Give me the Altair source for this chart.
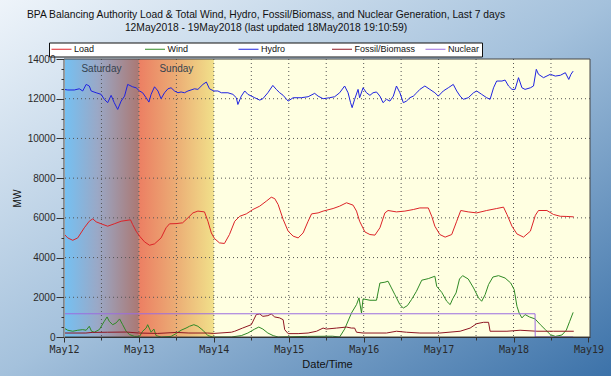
import altair as alt
import pandas as pd

BASE = pd.Timestamp("2018-05-12 00:00")
W, H = 526, 278

title_lines = [
    "BPA Balancing Authority Load & Total Wind, Hydro, Fossil/Biomass, and Nuclear Generation, Last 7 days",
    "12May2018 - 19May2018 (last updated 18May2018 19:10:59)",
]
series_names = ["Load", "Wind", "Hydro", "Fossil/Biomass", "Nuclear"]
series_colors = ["#dc2328", "#2f8a25", "#1f23e0", "#8e1622", "#9b6ce0"]

# hours after 12May2018 00:00, MW
hydro_h = [0, 1.2, 3.3, 4.9, 6.0, 7.1, 8.1, 8.7, 10.3, 11.9, 12.9, 14.0, 15.1, 16.1, 17.2, 18.3, 19.4, 20.4, 22.0, 23.1,
           24.2, 25.2, 26.3, 27.2, 27.9, 29.0, 30.1, 31.1, 32.2, 33.3, 34.3, 35.4, 36.5, 37.5, 38.6, 39.7, 40.7, 41.8, 42.9, 44.5,
           45.6, 46.6, 48.0, 49.3, 50.4, 52.5, 54.1, 55.2, 55.7, 56.8, 57.9, 58.9, 61.1, 62.7, 63.7, 65.3, 66.9, 68.0, 69.1, 70.2,
           71.8, 73.4, 76.0, 78.2, 80.3, 81.4, 83.0,
           85.1, 86.7, 88.3, 89.9, 91.0, 91.8, 92.3, 93.1, 94.2, 94.7, 95.8, 96.9, 98.0, 99.0, 100.1, 101.2, 102.2, 103.3, 104.4, 105.5,
           106.5, 107.6, 108.7, 109.7, 110.8, 111.9, 113.0, 114.0, 115.6, 117.2, 118.8, 119.9, 121.5, 123.1, 124.7, 125.8, 126.9, 127.9, 129.5, 131.2,
           132.2, 133.8, 135.4, 136.5, 137.6, 138.6, 140.3, 141.3, 142.4, 143.5, 144.5, 145.6, 146.7, 147.7, 149.4, 150.4, 151.3, 152.0, 153.6, 155.8,
           157.4, 159.0, 160.6, 161.7, 162.4, 163.1]
hydro_mw = [12470, 12440, 12440, 12500, 12390, 12720, 12640, 12390, 12300, 12220, 11970, 11800, 12170, 11800, 11460, 11880, 12130, 12720, 12600, 12550,
            12390, 12300, 12050, 11830, 12220, 12600, 12390, 12000, 12300, 12500, 12550, 12390, 12300, 12340, 12300, 12390, 12440, 12500, 12470, 12720,
            12840, 12500, 12390, 12390, 12300, 12300, 12220, 12050, 11710, 12130, 12390, 12220, 12050, 11930, 12000, 12300, 12670, 12470, 12300, 12170,
            11880, 12050, 12050, 12100, 12270, 12130, 12000,
            12050, 12100, 12300, 12640, 12300, 11800, 11550, 11970, 12470, 12050, 12550, 12300, 12170, 12300, 12340, 12130, 11800, 11970, 11880, 12130,
            12640, 12300, 11800, 11880, 12050, 12130, 12300, 12470, 12640, 12470, 12300, 12130, 12390, 12550, 12720, 12390, 12130, 11970, 12050, 12300,
            12390, 12220, 12050, 11970, 12550, 12890, 12890, 12940, 12640, 12470, 12470, 13060, 12550, 12470, 12550, 12640, 13480, 13230, 13060, 13230,
            13140, 13180, 13310, 12970, 13230, 13390]

load_h = [0, 1.2, 2.8, 4.4, 6.5, 8.1, 9.2, 10.3, 11.9, 14.0, 16.1, 18.3, 21.3, 22.0, 23.1, 24.2, 25.8, 27.4, 29.0, 31.1,
          32.7, 33.8, 35.9, 38.0, 39.7, 41.3, 42.9, 45.0, 46.1, 47.2, 48.2, 49.8, 51.4, 53.0, 54.7, 56.3, 58.4, 60.5, 62.7, 64.8,
          66.4, 67.5, 68.6, 70.2, 71.8, 73.4, 75.0, 76.6, 78.2, 79.3, 81.4, 83.0, 86.2, 88.3, 90.5, 92.6, 93.7, 94.7, 96.4, 98.0,
          99.6, 101.2, 102.8, 103.8, 106.5, 109.2, 111.9, 114.0, 116.7, 117.8, 118.8, 120.4, 122.1, 124.2, 125.8, 127.1, 129.5, 132.2, 135.4, 138.6,
          140.8, 141.9, 143.5, 145.1, 147.2, 149.4, 151.0, 152.0, 154.7, 156.8, 159.0, 161.1, 163.3]
load_mw = [5190, 4990, 4870, 4990, 5500, 5830, 5950, 5800, 5700, 5580, 5700, 5830, 5900, 5660, 5330, 5080, 4790, 4620, 4690, 4990,
           5500, 5700, 5710, 5750, 6000, 6250, 6340, 6300, 5830, 5240, 4960, 4740, 4710, 5160, 5830, 6080, 6200, 6420, 6590, 6840,
           7040, 6970, 6670, 5920, 5330, 5080, 4990, 5240, 5830, 6200, 6250, 6340, 6470, 6590, 6760, 6640, 6340, 5830, 5290, 5160,
           5130, 5500, 6250, 6370, 6300, 6340, 6420, 6500, 6500, 6080, 5580, 5160, 5030, 5160, 5830, 6370, 6300, 6250, 6370, 6470,
           6540, 6170, 5580, 5190, 5030, 5330, 6130, 6370, 6370, 6170, 6080, 6070, 6050]

wind_h = [0, 1.2, 2.8, 4.4, 6.0, 7.1, 8.1, 8.8, 9.7, 11.3, 12.9, 13.8, 14.5, 15.6, 16.7, 17.8, 18.8, 19.9, 21.0, 22.6,
          24.2, 25.2, 26.3, 26.8, 27.9, 28.8, 29.5, 31.1, 34.3, 35.9, 37.5, 39.1, 40.2, 41.6, 42.9, 44.5, 46.1, 47.7, 53.6, 56.8,
          58.9, 61.1, 62.4, 63.7, 65.3, 67.0, 68.6, 78.0, 86.0, 88.3, 89.9, 92.1, 93.7, 94.5, 95.3, 95.8, 98.0, 100.1, 101.2, 102.8,
          103.8, 104.9, 106.0, 107.6, 108.7, 110.0, 111.3, 112.9, 114.6, 116.7, 118.8, 119.4, 121.0, 122.6, 123.7, 124.5, 125.6, 126.7, 127.7, 129.5,
          131.2, 132.8, 133.8, 134.9, 136.0, 137.4, 139.2, 141.3, 143.1, 144.2, 145.1, 145.8, 146.7, 147.7, 149.1, 150.9, 152.6, 154.2, 155.8, 157.4,
          159.5, 160.9, 162.0, 163.1]
wind_mw = [450, 340, 290, 340, 370, 340, 540, 290, 240, 370, 790, 1010, 790, 620, 710, 910, 620, 290, 120, 30,
           30, 290, 450, 620, 240, 400, 70, 0, 30, 170, 340, 450, 540, 620, 540, 340, 70, 0, 0, 70,
           200, 400, 500, 400, 200, 70, 0, 30, 40, 0, 400, 1210, 1630, 1970, 1210, 1920, 1850, 1850, 2720, 2760,
           2810, 2470, 2130, 1630, 1460, 1580, 1880, 2300, 2860, 2940, 3060, 2550, 2250, 1800, 1630, 1920, 2220, 2920, 3090, 2920,
           2470, 1970, 1800, 2130, 2640, 3020, 3090, 2970, 2720, 2390, 1550, 1210, 960, 1130, 1010, 910, 620, 370, 120, 30,
           100, 340, 790, 1240]

fossil_h = [0, 7, 9, 14, 20, 24, 30, 36, 40, 46, 48, 53.6, 54.7, 57.2, 60, 61.6, 62.7, 63.7, 65.3, 66.4,
            67.5, 69.1, 70.2, 70.7, 71.8, 75, 78.2, 80.9, 83, 84, 87.3, 90.5, 92.1, 93.1, 93.7, 95.8, 103.3, 106.5, 109.7, 114,
            120.4, 126.9, 130.1, 132.2, 134.4, 136, 136.5, 141.9, 146.1, 151.5, 156.8, 163.3]
fossil_mw = [200, 200, 230, 240, 250, 200, 180, 230, 200, 200, 180, 240, 290, 450, 620, 1130, 1160, 1040, 1075, 1160,
             1010, 960, 870, 370, 170, 170, 200, 290, 450, 400, 450, 500, 450, 450, 240, 200, 200, 290, 240, 200,
             200, 290, 450, 670, 740, 740, 290, 290, 340, 290, 290, 290]

nuclear_h = [0, 150.9, 150.95, 163.1]
nuclear_mw = [1170, 1170, 0, 0]

day_labels = ["Saturday", "Sunday"]
day_start_h = [0, 24]
day_end_h = [24, 48]
grid_h = [12, 24, 36, 48, 60, 72, 84, 96, 108, 120, 132, 144, 156]
grid_mw = [2000, 4000, 6000, 8000, 10000, 12000]
xtick_h = list(range(0, 169, 12))
ytick_mw = list(range(0, 14001, 500))


def stamp(h):
    return (BASE + pd.Timedelta(hours=h)).strftime("%Y-%m-%dT%H:%M:%S")


def dt(h):
    d = BASE + pd.Timedelta(hours=h)
    return alt.DateTime(year=d.year, month=d.month, date=d.day, hours=d.hour, minutes=d.minute)


rows = []
for name, hs, vs in zip(series_names,
                        [load_h, wind_h, hydro_h, fossil_h, nuclear_h],
                        [load_mw, wind_mw, hydro_mw, fossil_mw, nuclear_mw]):
    for h, v in zip(hs, vs):
        rows.append({"t": stamp(h), "mw": v, "series": name})
lines_df = pd.DataFrame(rows)

days_df = pd.DataFrame({"label": day_labels,
                        "t": [stamp(h) for h in day_start_h],
                        "t2": [stamp(h) for h in day_end_h],
                        "tm": [stamp((a + b) / 2) for a, b in zip(day_start_h, day_end_h)]})
vgrid_df = pd.DataFrame({"t": [stamp(h) for h in grid_h]})
hgrid_df = pd.DataFrame({"mw": grid_mw})

xscale = alt.Scale(domain=[dt(0), dt(168.5)])
yscale = alt.Scale(domain=[0, 14000], nice=False)

FONT = "Liberation Sans"

x_axis = alt.Axis(
    values=[dt(h) for h in xtick_h],
    labelExpr="hours(datum.value) == 0 ? timeFormat(datum.value, '%b%d') : ''",
    tickSize={"condition": {"test": "hours(datum.value) == 0", "value": 5}, "value": 3},
    labelFont="DejaVu Sans Mono", labelFontSize=10, labelColor="#2a2a2a", labelPadding=2,
    labelOverlap=False, labelFlush=False, domainColor="#333333", tickColor="#333333",
    grid=False, title="Date/Time", titleFont=FONT, titleFontSize=11, titleFontWeight="normal",
    titleColor="#111111", titlePadding=4, zindex=1)

y_axis = alt.Axis(
    values=ytick_mw, format="d",
    labelExpr="datum.value % 2000 === 0 ? datum.label : ''",
    tickSize={"condition": {"test": "datum.value % 2000 === 0", "value": 8}, "value": 3},
    labelFont=FONT, labelFontSize=10, labelColor="#2a2a2a", labelPadding=1,
    labelOverlap=False, domainColor="#9a9a9a", tickColor="#333333",
    grid=False, title="MW", titleFont=FONT, titleFontSize=10, titleFontWeight="normal",
    titleColor="#111111", titlePadding=5, zindex=1)


def X(field):
    return alt.X(field, scale=xscale, axis=x_axis, title="Date/Time")


def Y(field):
    return alt.Y(field, scale=yscale, axis=y_axis, title="MW")


bg = alt.Chart(pd.DataFrame({"k": [0]})).mark_rect(
    fill=alt.Gradient(gradient="linear", x1=0, y1=0, x2=1, y2=1,
                      stops=[alt.GradientStop(color="#eef4fa", offset=0),
                             alt.GradientStop(color="#a4c1dc", offset=0.5),
                             alt.GradientStop(color="#3c72a9", offset=1)])
).encode(x=alt.value(-64), x2=alt.value(W + 21), y=alt.value(-59), y2=alt.value(H + 39))

plotbg = alt.Chart(pd.DataFrame({"k": [0]})).mark_rect(fill="#ffffe1").encode(
    x=alt.value(0), x2=alt.value(W), y=alt.value(0), y2=alt.value(H))

sat = alt.Chart(days_df.iloc[[0]]).mark_rect(
    fill=alt.Gradient(gradient="linear", x1=0, y1=0, x2=1, y2=0,
                      stops=[alt.GradientStop(color="#74c1f3", offset=0),
                             alt.GradientStop(color="#9aa8c6", offset=0.45),
                             alt.GradientStop(color="#ab7873", offset=1)])
).encode(x=X("t:T"), x2="t2:T", y=alt.value(0), y2=alt.value(H))

sun = alt.Chart(days_df.iloc[[1]]).mark_rect(
    fill=alt.Gradient(gradient="linear", x1=0, y1=0, x2=1, y2=0,
                      stops=[alt.GradientStop(color="#ec7f63", offset=0),
                             alt.GradientStop(color="#eba873", offset=0.45),
                             alt.GradientStop(color="#f1e08a", offset=1)])
).encode(x=X("t:T"), x2="t2:T", y=alt.value(0), y2=alt.value(H))

day_text = alt.Chart(days_df).mark_text(
    font=FONT, fontSize=10, color="#34424f", baseline="middle", align="center"
).encode(x=X("tm:T"), y=alt.value(10), text="label:N")

vgrid = alt.Chart(vgrid_df).mark_rule(color="#555555", strokeDash=[1, 3], strokeWidth=1).encode(x=X("t:T"))
hgrid = alt.Chart(hgrid_df).mark_rule(color="#555555", strokeDash=[1, 3], strokeWidth=1).encode(y=Y("mw:Q"))

lines = alt.Chart(lines_df).mark_line(strokeWidth=1).encode(
    x=X("t:T"),
    y=Y("mw:Q"),
    color=alt.Color("series:N",
                    scale=alt.Scale(domain=series_names, range=series_colors),
                    legend=alt.Legend(orient="none", legendX=-15, legendY=-16.5, direction="horizontal",
                                      columns=5, gridAlign="all", title=None, symbolType="M-5,0H5",
                                      symbolSize=16, symbolStrokeWidth=1, symbolOffset=6,
                                      labelFont=FONT, labelFontSize=9,
                                      labelColor="#111111", labelOffset=8, fillColor="white",
                                      strokeColor="#111111", padding=2, columnPadding=7.5)),
    order=alt.Order("t:T"),
)

border = alt.Chart(pd.DataFrame({"k": [0]})).mark_rect(filled=False, stroke="#444444", strokeWidth=1).encode(
    x=alt.value(0), x2=alt.value(W), y=alt.value(0), y2=alt.value(H))

chart = alt.layer(bg, plotbg, sat, sun, day_text, vgrid, hgrid, lines, border).properties(
    width=W, height=H,
    autosize=alt.AutoSizeParams(type="none"),
    padding={"left": 64, "top": 59, "right": 21, "bottom": 39},
    title=alt.TitleParams(text=title_lines, font=FONT, fontSize=10.3, fontWeight="normal", color="#111111",
                          anchor="middle", frame="group", dx=-61, offset=-33, lineHeight=12.5),
).configure_view(stroke=None)

chart.save("out.html", embed_options={"renderer": "svg", "actions": False})
